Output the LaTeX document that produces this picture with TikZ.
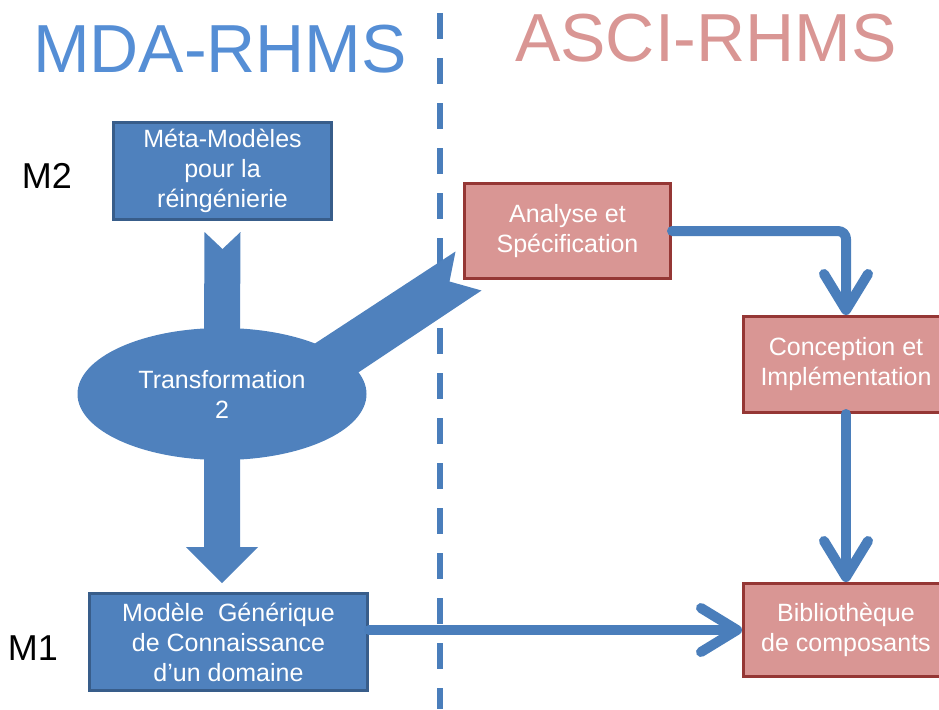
\documentclass[tikz,border=0pt]{standalone}
\usepackage{fontspec}
\setmainfont{Liberation Sans}
\usetikzlibrary{calc,shapes.geometric,arrows.meta}

\definecolor{boxblue}{HTML}{4F81BD}
\definecolor{boxblueline}{HTML}{385D8A}
\definecolor{boxpink}{HTML}{D99694}
\definecolor{boxpinkline}{HTML}{953735}
\definecolor{arrowblue}{HTML}{4A7EBB}
\definecolor{titleblue}{HTML}{558ED5}

\tikzset{
  bluebox/.style={rectangle, fill=boxblue, draw=boxblueline, line width=3pt,
    text=white, align=center, inner sep=0pt, font=\fontsize{25}{30}\selectfont},
  pinkbox/.style={bluebox, fill=boxpink, draw=boxpinkline},
  flow/.style={draw=arrowblue, line width=10pt, line cap=round, line join=round,
    -{Straight Barb[length=36pt,width=44pt,round]}},
  title/.style={anchor=base, font=\fontsize{68}{80}\selectfont},
  level/.style={font=\fontsize{36}{40}\selectfont},
}

\begin{document}
\begin{tikzpicture}[x=1pt, y=-1pt]
    \useasboundingbox (0,0) rectangle (939,709);
    \clip (0,0) rectangle (939,709);

    % Titres
    \node[title, text=titleblue] (mda) at (220,73) {MDA-RHMS};
    \node[title, text=boxpink] (asci) at (706,61) {ASCI-RHMS};

    % Séparation
    \draw[arrowblue, line width=6pt, dash pattern=on 26pt off 19pt] (440,13) -- (440,709);

    \node[level] (m2) at (47,176) {M2};
    \node[level] (m1) at (33,648) {M1};

    % Côté MDA
    \node[bluebox, minimum width=218, minimum height=97] (meta) at (222.5,171)
        {Méta-Modèles\\pour la\\réingénierie};
    \node[bluebox, minimum width=278, minimum height=97] (gen) at (228.5,642)
        {Modèle\ \ Générique\\de Connaissance\\d’un domaine};
    \coordinate (tc) at (222,394);

    % Côté ASCI
    \node[pinkbox, minimum width=206, minimum height=95] (ana) at (567.5,231)
        {Analyse et\\Spécification};
    \node[pinkbox, minimum width=205, minimum height=96] (con) at (846,364.5)
        {Conception et\\Implémentation};
    \node[pinkbox, minimum width=205, minimum height=93] (bib) at (846,630)
        {Bibliothèque\\de composants};

    % Grosses flèches
    \fill[boxblue] ($(meta.south)+(-18,11)$) -- ($(meta.south)+(0,28)$)
        -- ($(meta.south)+(18,11)$) -- ($(tc)+(18,-60)$) -- ($(tc)+(-18,-60)$) -- cycle;
    \fill[boxblue] ($(tc)+(-18,60)$) -- ($(tc)+(18,60)$)
        -- ($(tc |- gen.north)+(18,-45)$) -- ($(tc |- gen.north)+(36,-45)$)
        -- ($(tc |- gen.north)+(0,-9)$) -- ($(tc |- gen.north)+(-36,-45)$)
        -- ($(tc |- gen.north)+(-18,-45)$) -- cycle;
    \fill[boxblue] ($(tc)+(83,-44)$) -- ($(ana.south west)+(-7.5,-28.5)$)
        -- ($(ana.south west)+(-13.5,1.5)$) -- ($(ana.south west)+(18.5,10.5)$)
        -- ($(tc)+(128,-16)$) -- cycle;

    % Ellipse
    \node[ellipse, fill=boxblue, minimum width=289, minimum height=132, inner sep=0pt,
        text=white, align=center, font=\fontsize{25}{30}\selectfont] (trans) at (tc)
        {Transformation\\2};

    % Flèches fines
    \draw[flow, rounded corners=8] (ana.east) -| (con.north);
    \draw[flow] (con.south) -- (bib.north);
    \draw[flow] (gen.east |- bib.west) -- (bib.west);
\end{tikzpicture}
\end{document}
